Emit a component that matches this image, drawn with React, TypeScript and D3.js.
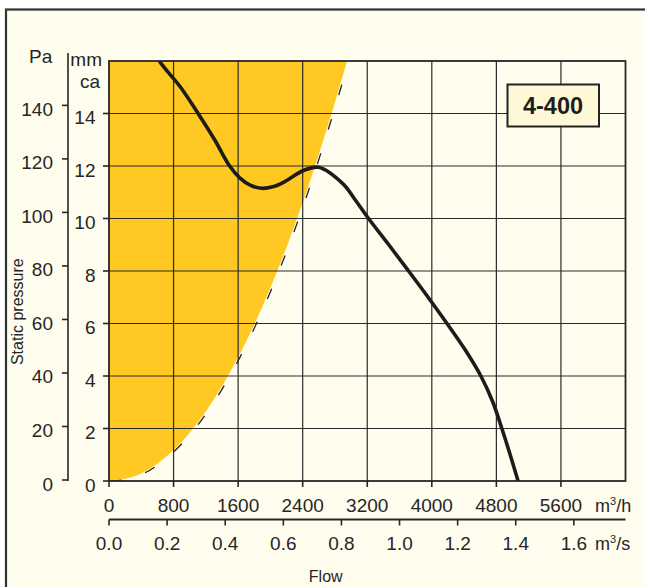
import React from "react";
import * as d3 from "d3";

const title = "4-400";
const flowTicksM3h = [0, 800, 1600, 2400, 3200, 4000, 4800, 5600];
const flowTicksM3s = [0.0, 0.2, 0.4, 0.6, 0.8, 1.0, 1.2, 1.4, 1.6];
const paTicks = [0, 20, 40, 60, 80, 100, 120, 140];
const mmcaTicks = [0, 2, 4, 6, 8, 10, 12, 14];
const gridFlow = [800, 1600, 2400, 3200, 4000, 4800, 5600];
const gridMmca = [2, 4, 6, 8, 10, 12, 14];

// fan curve (m3/h, mm ca)
const fanFlow = [560, 624, 887, 1104, 1309, 1495, 1620, 1750, 1894, 2040, 2162, 2410, 2596, 2906, 3030, 3216, 3467, 3712, 3954, 4188, 4413, 4608, 4757, 4868, 4971, 5069];
const fanPressure = [16.4, 16, 15.0, 14.0, 13.0, 12.0, 11.55, 11.27, 11.15, 11.22, 11.38, 11.83, 11.95, 11.3, 10.8, 10.0, 9.0, 8.0, 7.0, 6.0, 5.0, 4.0, 3.0, 2.0, 1.0, 0];

// system curve bounding the yellow zone (m3/h, mm ca)
const sysFlow = [0, 400, 800, 1200, 1600, 2000, 2400, 2800, 2950];
const sysPressure = [0, 0.29, 1.18, 2.65, 4.71, 7.36, 10.6, 14.43, 16];

const FLOW_MAX = 6400;
const MMCA_MAX = 16;
const PA_PER_MMCA = 9.81;

const W = 645, H = 587;
const L = 109, R = 625.5, T = 61, B = 481;

const narrow = "'Liberation Sans Narrow', 'Arial Narrow', 'Liberation Sans', Arial, sans-serif";
const regular = "'Liberation Sans', Arial, sans-serif";
const ink = "#262626";

export default function App() {
  const x = d3.scaleLinear().domain([0, FLOW_MAX]).range([L, R]);
  const y = d3.scaleLinear().domain([0, MMCA_MAX]).range([B, T]);
  const yPa = d3.scaleLinear().domain([0, MMCA_MAX * PA_PER_MMCA]).range([B - 1, T - 1]);
  const xs = (v: number) => x(v * 3600);

  const sys = sysFlow.map((f, i) => [f, sysPressure[i]] as [number, number]);
  const fan = fanFlow.map((f, i) => [f, fanPressure[i]] as [number, number]);

  const areaGen = d3
    .area<[number, number]>()
    .x((d) => x(d[0]))
    .y0(() => y(MMCA_MAX))
    .y1((d) => y(d[1]))
    .curve(d3.curveMonotoneX);
  const sysLine = d3
    .line<[number, number]>()
    .x((d) => x(d[0]))
    .y((d) => y(d[1]))
    .curve(d3.curveMonotoneX);
  const fanLine = d3
    .line<[number, number]>()
    .x((d) => x(d[0]))
    .y((d) => y(d[1]))
    .curve(d3.curveCatmullRom.alpha(0.5));

  return (
    <svg width={W} height={H} style={{ position: "absolute", left: 0, top: 0 }}>
      <defs>
        <clipPath id="plot">
          <rect x={L} y={T} width={R - L} height={B - T} />
        </clipPath>
      </defs>
      <rect x={0} y={0} width={W} height={H} fill="#ffffff" />
      <rect x={6} y={9.5} width={W + 20} height={H + 20} fill="#fffdee" stroke="#333" strokeWidth={2.2} />

      <g clipPath="url(#plot)">
        <path d={areaGen(sys) || ""} fill="#ffc823" />
        {gridFlow.map((f) => (
          <line key={"gx" + f} x1={x(f)} x2={x(f)} y1={T} y2={B} stroke="#2a2a2a" strokeWidth={1.2} />
        ))}
        {gridMmca.map((m) => (
          <line key={"gy" + m} x1={L} x2={R} y1={y(m)} y2={y(m)} stroke="#2a2a2a" strokeWidth={1.2} />
        ))}
        <path d={sysLine(sys) || ""} fill="none" stroke="#222" strokeWidth={1.3} strokeDasharray="11,25" transform="translate(1.5,0.5)" />
        <path d={fanLine(fan) || ""} fill="none" stroke="#1c1c1c" strokeWidth={3.6} strokeLinecap="round" strokeLinejoin="round" />
      </g>
      <rect x={L} y={T} width={R - L} height={B - T} fill="none" stroke="#262626" strokeWidth={1.8} />

      {/* Pa axis */}
      <line x1={68} x2={68} y1={53} y2={B} stroke={ink} strokeWidth={1.6} />
      {paTicks.map((p) => (
        <g key={"pa" + p}>
          <line x1={62} x2={68} y1={yPa(p)} y2={yPa(p)} stroke={ink} strokeWidth={1.6} />
          <text x={53} y={yPa(p) + 10.5} textAnchor="end" fontFamily={narrow} fontSize={19} fill={ink}>
            {p}
          </text>
        </g>
      ))}
      <text x={29} y={63} fontFamily={narrow} fontSize={19} fill={ink}>Pa</text>

      {/* mm ca axis */}
      {mmcaTicks.map((m) => (
        <g key={"mm" + m}>
          <line x1={103} x2={L} y1={y(m)} y2={y(m)} stroke={ink} strokeWidth={1.6} />
          <text x={95.5} y={y(m) + 10.7} textAnchor="end" fontFamily={narrow} fontSize={19} fill={ink}>
            {m}
          </text>
        </g>
      ))}
      <text x={102} y={66} textAnchor="end" fontFamily={narrow} fontSize={19} fill={ink}>mm</text>
      <text x={100} y={88} textAnchor="end" fontFamily={narrow} fontSize={19} fill={ink}>ca</text>

      {/* m3/h axis */}
      {flowTicksM3h.map((f) => (
        <g key={"fh" + f}>
          <line x1={x(f)} x2={x(f)} y1={B} y2={487} stroke={ink} strokeWidth={1.6} />
          <text x={x(f)} y={512} textAnchor="middle" fontFamily={narrow} fontSize={19} fill={ink}>
            {f}
          </text>
        </g>
      ))}
      <text x={595} y={512} fontFamily={narrow} fontSize={18} fill={ink}>
        m<tspan dy={-7} fontSize={11}>3</tspan>
        <tspan dy={7}>/h</tspan>
      </text>

      {/* m3/s axis */}
      <line x1={L} x2={R} y1={519.5} y2={519.5} stroke={ink} strokeWidth={1.8} />
      {flowTicksM3s.map((s) => (
        <g key={"fs" + s}>
          <line x1={xs(s)} x2={xs(s)} y1={519.5} y2={525.5} stroke={ink} strokeWidth={1.6} />
          <text x={xs(s)} y={550} textAnchor="middle" fontFamily={narrow} fontSize={19} fill={ink}>
            {s.toFixed(1)}
          </text>
        </g>
      ))}
      <text x={595} y={550} fontFamily={narrow} fontSize={18} fill={ink}>
        m<tspan dy={-7} fontSize={11}>3</tspan>
        <tspan dy={7}>/s</tspan>
      </text>

      <text x={325.7} y={582} textAnchor="middle" fontFamily={regular} fontSize={16} fill={ink}>Flow</text>
      <text
        transform="translate(22.5,311.7) rotate(-90)"
        textAnchor="middle"
        fontFamily={regular}
        fontSize={16}
        fill={ink}
      >
        Static pressure
      </text>

      {/* title box */}
      <rect x={507.5} y={84.5} width={91.5} height={42} fill="#fff8d6" stroke="#222" strokeWidth={2} />
      <text x={553} y={113.5} textAnchor="middle" fontFamily={narrow} fontWeight="bold" fontSize={23.5} fill="#1e1e1e">
        {title}
      </text>
    </svg>
  );
}
